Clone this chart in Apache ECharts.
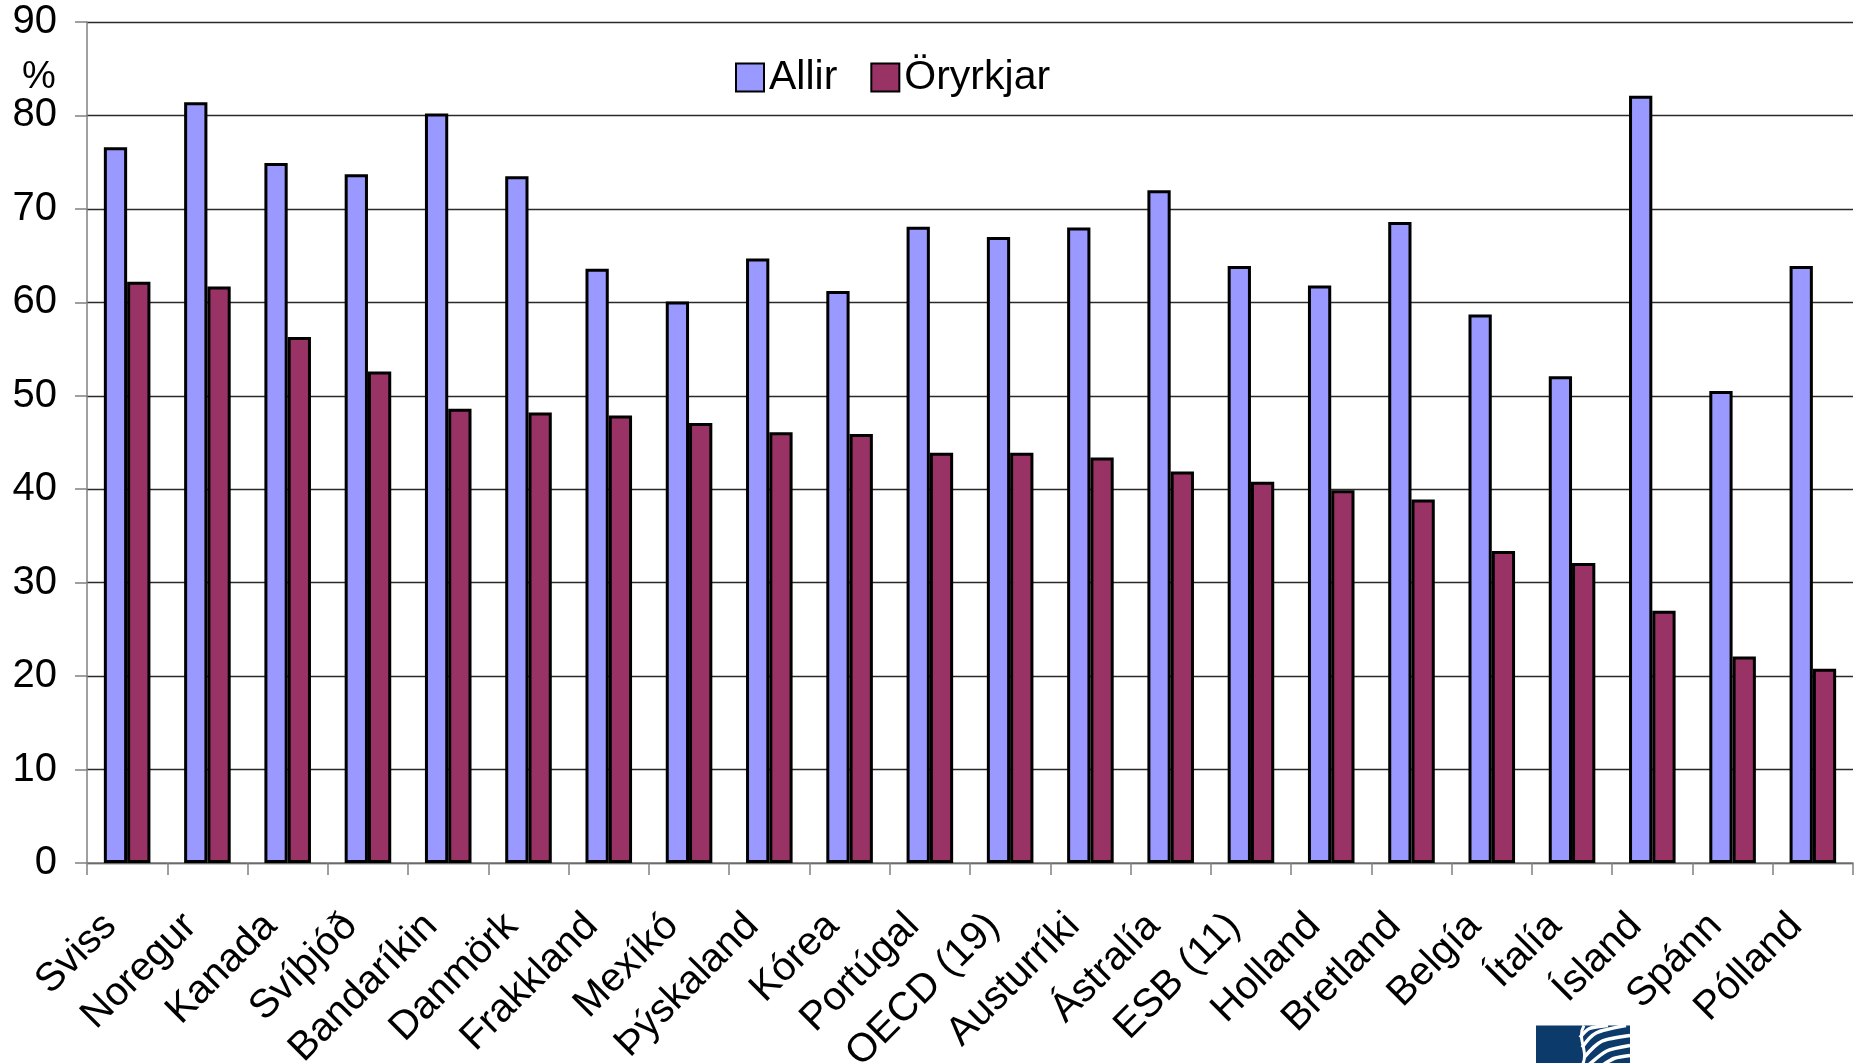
<!DOCTYPE html>
<html>
<head>
<meta charset="utf-8">
<script src="https://cdn.jsdelivr.net/npm/echarts@6/dist/echarts.min.js"></script>
<style>
  html, body { margin: 0; padding: 0; background: #fff; }
  #chart { width: 1859px; height: 1063px; }
</style>
</head>
<body>
<div id="chart"></div>
<script>
// atvinnuþátttaka, allir og öryrkjar
const categories = ['Sviss', 'Noregur', 'Kanada', 'Svíþjóð', 'Bandaríkin', 'Danmörk', 'Frakkland', 'Mexíkó', 'Þýskaland', 'Kórea', 'Portúgal', 'OECD (19)', 'Austurríki', 'Ástralía', 'ESB (11)', 'Holland', 'Bretland', 'Belgía', 'Ítalía', 'Ísland', 'Spánn', 'Pólland'];
const allir = [76.6, 81.4, 74.9, 73.7, 80.2, 73.5, 63.6, 60.1, 64.7, 61.2, 68.1, 67.0, 68.0, 72.0, 63.9, 61.8, 68.6, 58.7, 52.1, 82.1, 50.5, 63.9];
const oryrkjar = [62.2, 61.7, 56.3, 52.6, 48.6, 48.2, 47.9, 47.1, 46.1, 45.9, 43.9, 43.9, 43.4, 41.9, 40.8, 39.9, 38.9, 33.4, 32.1, 27.0, 22.1, 20.8];
const yTicks = [0, 10, 20, 30, 40, 50, 60, 70, 80, 90];

const font = 'Liberation Sans, Arial, sans-serif';
const myChart = echarts.init(document.getElementById('chart'));

// lógó neðst til hægri
const stripe = (x1, y1, x2, y2, cx, cy) => ({
    type: 'bezierCurve',
    shape: { x1: x1, y1: y1, x2: x2, y2: y2, cpx1: cx, cpy1: cy, cpx2: cx, cpy2: cy },
    style: { stroke: '#fff', lineWidth: 3.5, fill: null }
});

const option = {
    animation: false,
    textStyle: { fontFamily: font, color: '#000' },
    grid: { left: 87, right: 6, top: 22, bottom: 200, containLabel: false, outerBoundsMode: 'none' },
    legend: {
        left: 730,
        top: 52,
        itemWidth: 28,
        itemHeight: 28,
        itemGap: 33,
        icon: 'rect',
        textStyle: { fontSize: 41, color: '#000', fontFamily: font },
        data: ['Allir', 'Öryrkjar']
    },
    xAxis: {
        type: 'category',
        data: categories,
        axisLine: { lineStyle: { color: '#808080', width: 1.5 } },
        axisTick: { show: true, length: 12, lineStyle: { color: '#808080', width: 1.5 } },
        axisLabel: {
            rotate: 45,
            fontSize: 40,
            color: '#000',
            fontFamily: font,
            margin: 40,
            padding: [0, 24, 0, 0],
            interval: 0
        }
    },
    yAxis: {
        type: 'value',
        min: yTicks[0],
        max: yTicks[yTicks.length - 1],
        interval: 10,
        axisLine: { show: true, lineStyle: { color: '#808080', width: 1.5 } },
        axisTick: { show: true, length: 12, lineStyle: { color: '#808080', width: 1.5 } },
        axisLabel: { fontSize: 40, color: '#000', fontFamily: font, margin: 30 },
        splitLine: { lineStyle: { color: '#2a2a2a', width: 1.4 } }
    },
    series: [
        {
            name: 'Allir',
            type: 'bar',
            data: allir,
            barGap: 0,
            barCategoryGap: '42%',
            itemStyle: { color: '#9999FF', borderColor: '#000', borderWidth: 3 }
        },
        {
            name: 'Öryrkjar',
            type: 'bar',
            data: oryrkjar,
            barGap: 0,
            barCategoryGap: '42%',
            itemStyle: { color: '#993366', borderColor: '#000', borderWidth: 3 }
        }
    ],
    graphic: [
        {
            type: 'text',
            left: 22,
            top: 59,
            style: { text: '%', fontSize: 38, fill: '#000', fontFamily: font }
        },
        {
            type: 'group',
            left: 1536,
            top: 1023,
            children: [
                { type: 'rect', shape: { x: 0, y: 0, width: 94, height: 40 }, style: { fill: '#0b3a6b' } },
                {
                    type: 'bezierCurve',
                    shape: { x1: 48, y1: 0, x2: 46, y2: 40, cpx1: 40, cpy1: 14, cpx2: 54, cpy2: 26 },
                    style: { stroke: '#fff', lineWidth: 3, fill: null }
                },
                stripe(44, 12, 72, 0, 52, 2),
                stripe(46, 22, 90, 0, 58, 6),
                stripe(48, 32, 94, 10, 64, 14),
                stripe(52, 40, 94, 20, 70, 24),
                stripe(66, 40, 94, 30, 78, 32)
            ]
        }
    ]
};
option && myChart.setOption(option);
</script>
</body>
</html>
